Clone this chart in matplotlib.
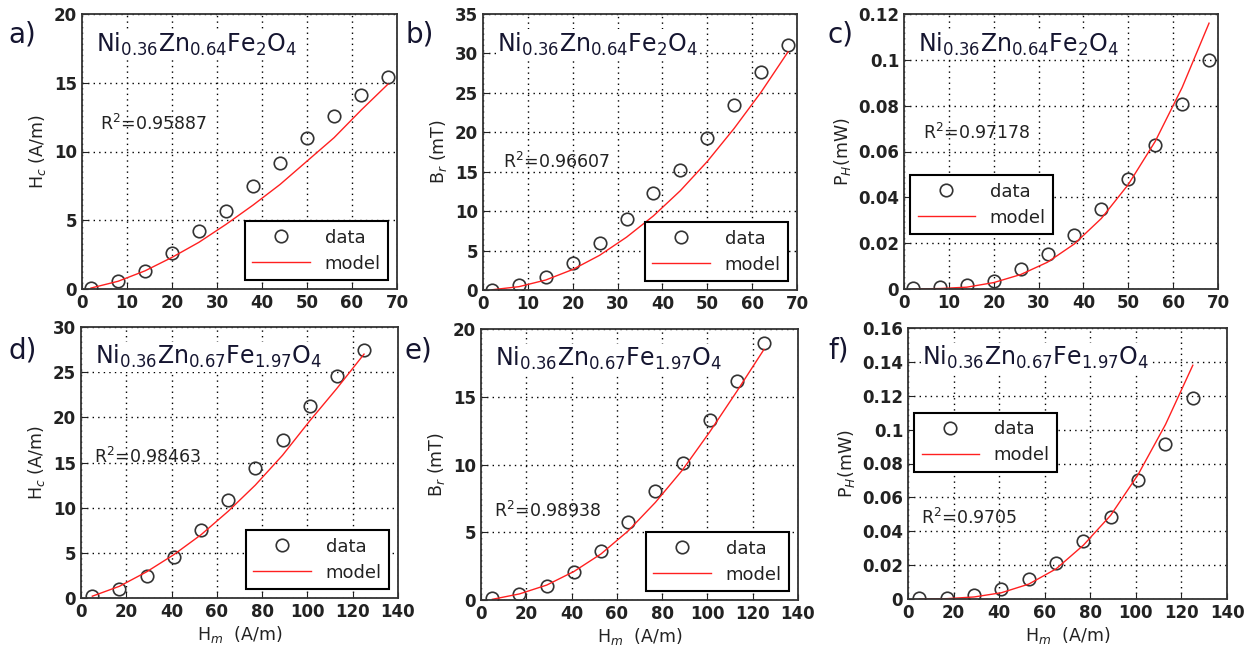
#!/usr/bin/env python
import sys
import numpy as np
import matplotlib
matplotlib.use('Agg')
import matplotlib.pyplot as plt

# field amplitude H_m (A/m)
hm_top = [2, 8, 14, 20, 26, 32, 38, 44, 50, 56, 62, 68]
hm_bot = [5, 17, 29, 41, 53, 65, 77, 89, 101, 113, 125]

# a) Hc, Ni0.36Zn0.64Fe2O4
hc_a_data  = [0.1, 0.6, 1.3, 2.6, 4.2, 5.7, 7.5, 9.2, 11.0, 12.6, 14.1, 15.4]
hc_a_model = [0.07, 0.56, 1.32, 2.3, 3.4, 4.7, 6.1, 7.6, 9.3, 11.0, 13.0, 14.9]
# b) Br
br_b_data  = [0.0, 0.6, 1.6, 3.4, 5.9, 9.0, 12.3, 15.2, 19.3, 23.5, 27.6, 31.1]
br_b_model = [0.03, 0.42, 1.27, 2.6, 4.4, 6.7, 9.4, 12.6, 16.3, 20.5, 25.1, 30.2]
# c) PH
ph_c_data  = [0.0003, 0.0007, 0.0017, 0.0036, 0.0087, 0.0151, 0.0236, 0.0348,
              0.048, 0.0628, 0.0806, 0.0999]
ph_c_model = [0.0, 0.0002, 0.0008, 0.0028, 0.0063, 0.0117, 0.0197, 0.0308,
              0.0456, 0.0644, 0.0879, 0.116]

# d) Hc, Ni0.36Zn0.67Fe1.97O4
hc_d_data  = [0.2, 1.0, 2.4, 4.5, 7.5, 10.9, 14.4, 17.5, 21.3, 24.6, 27.5]
hc_d_model = [0.2, 1.3, 2.9, 4.8, 7.0, 9.6, 12.5, 15.8, 19.6, 23.2, 27.0]
# e) Br
br_e_data  = [0.12, 0.44, 1.03, 2.04, 3.65, 5.74, 8.08, 10.1, 13.25, 16.13, 19.0]
br_e_model = [0.05, 0.45, 1.1, 2.1, 3.4, 5.1, 7.2, 9.6, 12.4, 15.4, 18.5]
# f) PH
ph_f_data  = [0.0006, 0.0006, 0.0026, 0.0059, 0.0118, 0.0213, 0.0344, 0.0484,
              0.070, 0.0915, 0.1187]
ph_f_model = [0.0, 0.0002, 0.0012, 0.0037, 0.0088, 0.0178, 0.0318, 0.0495,
              0.0735, 0.103, 0.138]

comp_top = r'Ni$_{0.36}$Zn$_{0.64}$Fe$_{2}$O$_{4}$'
comp_bot = r'Ni$_{0.36}$Zn$_{0.67}$Fe$_{1.97}$O$_{4}$'

W, H = 1258., 660.
TXT = '#222222'


def box(l, t, r, b):
    return [l / W, (H - b) / H, (r - l) / W, (b - t) / H]


def panel(fig, pos, x, yd, ym, xmax, xstep, ymax, ystep, ylab, comp,
          r2, r2xy, legloc, letter, lxy, bottom):
    ax = fig.add_axes(box(*pos))
    ax.plot(x, yd, 'o', mfc='none', mec='#333333', ms=9, mew=1.2, label='data')
    ax.plot(x, ym, '-', color='#ff2020', lw=1.0, label='model')
    ax.set_xlim(0, xmax)
    ax.set_ylim(0, ymax)
    ax.set_xticks(np.arange(0, xmax + xstep / 2, xstep))
    yt = np.arange(0, ymax + ystep / 2, ystep)
    ax.set_yticks(yt)
    if ystep < 1:
        ax.set_yticklabels(['0' if v == 0 else ('%g' % round(v, 3)) for v in yt])
    ax.grid(True, color='black', linestyle=(0, (1, 3)), lw=1.0)
    ax.tick_params(direction='in', labelsize=12, colors=TXT, length=4)
    plt.setp(ax.get_xticklabels(), fontweight='semibold')
    plt.setp(ax.get_yticklabels(), fontweight='semibold')
    for s in ax.spines.values():
        s.set_color('#333333')
        s.set_linewidth(1.3)
    ax.set_ylabel(ylab, fontsize=12.5, color=TXT)
    if bottom:
        ax.set_xlabel(r'H$_m$  (A/m)', fontsize=12.5, color=TXT, labelpad=2)
    ax.text(0.045, 0.89, comp, transform=ax.transAxes, fontsize=17,
            color='#151530', va='center', ha='left',
            bbox=dict(facecolor='white', edgecolor='none', pad=1))
    ax.text(r2xy[0], r2xy[1], r'R$^2$=' + r2, fontsize=12.5, color=TXT,
            va='center', ha='left')
    leg = ax.legend(loc=legloc, fontsize=13, fancybox=False, framealpha=1,
                    edgecolor='black', handlelength=3.2, borderpad=0.4,
                    labelspacing=0.45)
    leg.get_frame().set_linewidth(1.5)
    for t in leg.get_texts():
        t.set_color(TXT)
    fig.text(lxy[0] / W, 1 - lxy[1] / H, letter, fontsize=20, color='#151530',
             va='center', ha='left')
    return ax


def main():
    fig = plt.figure(figsize=(12.58, 6.6), dpi=100)

    panel(fig, (82, 14, 397, 289), hm_top, hc_a_data, hc_a_model, 70, 10, 20, 5,
          r'H$_c$ (A/m)', comp_top, '0.95887', (4, 12.0), 'lower right',
          'a)', (8, 34), False)
    panel(fig, (483, 14, 797, 290), hm_top, br_b_data, br_b_model, 70, 10, 35, 5,
          r'B$_r$ (mT)', comp_top, '0.96607', (4.5, 16.3), 'lower right',
          'b)', (405, 34), False)
    panel(fig, (904, 14, 1218, 289), hm_top, ph_c_data, ph_c_model, 70, 10, 0.12, 0.02,
          r'P$_H$(mW)', comp_top, '0.97178', (4.3, 0.068),
          (0.02, 0.2), 'c)', (828, 34), False)

    panel(fig, (81, 327, 398, 598), hm_bot, hc_d_data, hc_d_model, 140, 20, 30, 5,
          r'H$_c$ (A/m)', comp_bot, '0.98463', (5.6, 15.6), 'lower right',
          'd)', (8, 350), True)
    panel(fig, (481, 329, 798, 600), hm_bot, br_e_data, br_e_model, 140, 20, 20, 5,
          r'B$_r$ (mT)', comp_bot, '0.98938', (5.6, 6.6), 'lower right',
          'e)', (405, 350), True)
    panel(fig, (908, 328, 1227, 599), hm_bot, ph_f_data, ph_f_model, 140, 20, 0.16, 0.02,
          r'P$_H$(mW)', comp_bot, '0.9705', (5.9, 0.048),
          (0.02, 0.47), 'f)', (828, 350), True)

    fig.savefig('out.png', dpi=100)


if __name__ == "__main__":
    sys.exit(main())
